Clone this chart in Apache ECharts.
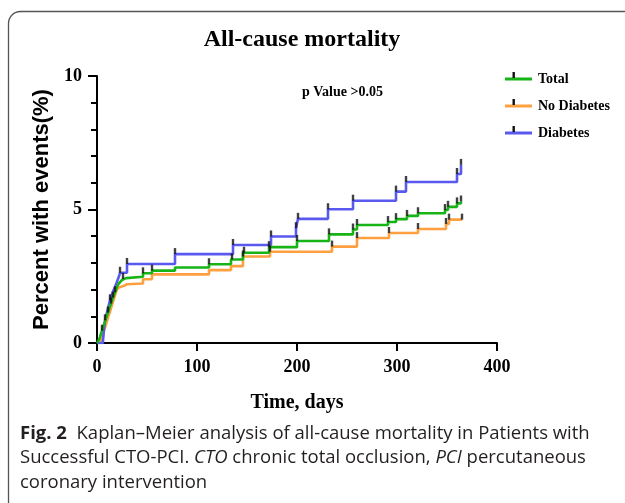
<!DOCTYPE html>
<html>
<head>
<meta charset="utf-8">
<script src="https://cdn.jsdelivr.net/npm/echarts@6/dist/echarts.min.js"></script>
<style>
html,body{margin:0;padding:0;background:#fff;}
#chart{width:625px;height:503px;}
</style>
</head>
<body>
<div id="chart"></div>
<script>
// ---- data (days, percent with events) ----
const seriesNames = ['Total', 'No Diabetes', 'Diabetes'];
const seriesColors = ['#17b317', '#ffa040', '#5959f0'];
const xTicks = [0, 100, 200, 300, 400];
const yTicks = [0, 5, 10];

const totalSteps = [[0,0],[2,0.12],[3,0.23],[4,0.35],[5,0.46],[6,0.57],[7,0.69],[8,0.8],[9,0.92],[10,1.03],[11,1.14],[12,1.26],[13,1.37],[14,1.48],[15,1.6],[16,1.7],[17,1.8],[18,1.9],[19,2.0],[20,2.1],[21,2.18],[23,2.28],[25,2.36],[27,2.43],[29,2.48],[46,2.61],[55,2.71],[78,2.83],[112,2.95],[134,3.13],[146,3.38],[172,3.59],[200,3.82],[232,4.07],[256,4.25],[260,4.42],[291,4.53],[299,4.64],[310,4.76],[321,4.86],[348,4.98],[351,5.1],[360,5.23],[364,5.3]];
const noDiabetesSteps = [[0,0],[4,0.1],[5,0.22],[6,0.34],[7,0.46],[8,0.58],[9,0.7],[10,0.82],[11,0.94],[12,1.06],[13,1.18],[14,1.3],[15,1.42],[16,1.54],[17,1.66],[18,1.78],[19,1.9],[20,2.0],[22,2.08],[24,2.14],[27,2.2],[30,2.23],[46,2.39],[55,2.57],[112,2.73],[134,2.88],[146,3.24],[173,3.42],[235,3.61],[260,3.93],[292,4.12],[321,4.27],[349,4.46],[352,4.62],[365,4.62]];
const diabetesSteps = [[0,0],[6,0.1],[7,0.5],[8,0.85],[9,1.0],[10,1.15],[11,1.3],[12,1.45],[13,1.6],[14,1.72],[15,1.83],[16,1.93],[18,2.1],[20,2.3],[22,2.5],[23,2.63],[30,2.96],[78,3.33],[136,3.67],[174,3.99],[199,4.3],[201,4.65],[231,5.01],[256,5.33],[299,5.67],[309,6.03],[360,6.33],[364,6.67]];

// censored observations (tick marks)
const totalCensor = [[5,0.46],[11,1.14],[14,1.48],[16,1.7],[18,1.9],[26,2.4],[46,2.61],[55,2.71],[112,2.95],[135,3.13],[147,3.38],[172,3.59],[200,3.82],[232,4.07],[256,4.25],[260,4.42],[291,4.53],[299,4.64],[310,4.76],[321,4.86],[348,4.98],[351,5.1],[360,5.23],[364,5.3]];
const noDiabetesCensor = [[146,3.24],[173,3.42],[235,3.61],[260,3.93],[292,4.12],[321,4.27],[349,4.46],[352,4.62],[365,4.62]];
const diabetesCensor = [[8,0.85],[13,1.6],[23,2.63],[30,2.96],[78,3.33],[136,3.67],[174,3.99],[199,4.3],[201,4.65],[231,5.01],[256,5.33],[299,5.67],[309,6.03],[360,6.33],[364,6.67]];

const serif = '"Liberation Serif","Times New Roman",serif';
const sans = '"Liberation Sans",Arial,sans-serif';
const capFont = '"Open Sans",sans-serif';

const chart = echarts.init(document.getElementById('chart'), null, {renderer: 'canvas'});

const stepSeries = [totalSteps, noDiabetesSteps, diabetesSteps];
const censorSeries = [totalCensor, noDiabetesCensor, diabetesCensor];
const drawOrder = [1, 2, 0];

const series = [];
drawOrder.forEach(i => {
  series.push({
    name: seriesNames[i], type: 'line', step: 'end', data: stepSeries[i],
    symbol: 'none', color: seriesColors[i],
    lineStyle: {width: 2.6, color: seriesColors[i]}, z: 2 + drawOrder.indexOf(i), animation: false
  });
});
censorSeries.forEach(c => {
  series.push({
    type: 'scatter', data: c, symbol: 'rect', symbolSize: [2.4, 6], symbolOffset: [0, -3],
    itemStyle: {color: '#111'}, z: 10, animation: false, silent: true
  });
});

chart.setOption({
  animation: false,
  title: {
    text: 'All-cause mortality', left: 297, top: 23, textAlign: 'center',
    textStyle: {fontFamily: serif, fontWeight: 'bold', fontSize: 24, color: '#000'}
  },
  legend: {
    data: seriesNames, orient: 'vertical', left: 500, top: 67, itemGap: 13,
    itemWidth: 27, itemHeight: 3, icon: 'rect',
    textStyle: {fontFamily: serif, fontWeight: 'bold', fontSize: 14, color: '#000', padding: [0,0,0,1]}
  },
  grid: {left: 97, right: 128, top: 76, bottom: 160, containLabel: false},
  xAxis: {
    type: 'value', min: 0, max: 400, interval: 100,
    name: 'Time, days', nameLocation: 'middle', nameGap: 50,
    nameTextStyle: {fontFamily: serif, fontWeight: 'bold', fontSize: 20, color: '#000'},
    axisLine: {show: true, onZero: false, lineStyle: {color: '#000', width: 2}},
    axisTick: {show: true, length: 8, lineStyle: {color: '#000', width: 2}},
    axisLabel: {fontFamily: serif, fontWeight: 'bold', fontSize: 18, color: '#000', margin: 15,
      customValues: xTicks},
    splitLine: {show: false}
  },
  yAxis: {
    type: 'value', min: 0, max: 10, interval: 5,
    name: 'Percent with events(%)', nameLocation: 'middle', nameGap: 44,
    nameTextStyle: {fontFamily: sans, fontWeight: 'bold', fontSize: 22, color: '#000'},
    axisLine: {show: true, lineStyle: {color: '#000', width: 2}},
    axisTick: {show: true, length: 9, lineStyle: {color: '#000', width: 2}},
    minorTick: {show: true, splitNumber: 5, length: 6, lineStyle: {color: '#000', width: 2}},
    axisLabel: {fontFamily: serif, fontWeight: 'bold', fontSize: 18, color: '#000', margin: 15},
    splitLine: {show: false}
  },
  graphic: [
    {type: 'rect', shape: {x: 8.5, y: 11.5, width: 700, height: 600, r: 12}, style: {fill: 'none', stroke: '#555', lineWidth: 1.3}, z: -1},
    {type: 'text', left: 302, top: 85, style: {text: 'p Value >0.05', font: 'bold 14px ' + serif, fill: '#000'}},
    {type: 'rect', shape: {x: 512.5, y: 72, width: 2.4, height: 6}, style: {fill: '#111'}, z: 100},
    {type: 'rect', shape: {x: 512.5, y: 99, width: 2.4, height: 6}, style: {fill: '#111'}, z: 100},
    {type: 'rect', shape: {x: 512.5, y: 126, width: 2.4, height: 6}, style: {fill: '#111'}, z: 100},
    {type: 'text', left: 20, top: 421, style: {
      text: '{b|Fig. 2}  Kaplan–Meier analysis of all-cause mortality in Patients with\nSuccessful CTO-PCI. {i|CTO} chronic total occlusion, {i|PCI} percutaneous\ncoronary intervention',
      font: '18.5px ' + capFont, fill: '#231f20', lineHeight: 24.5,
      rich: {
        b: {fontFamily: capFont, fontWeight: 'bold', fontSize: 18.5, fill: '#231f20', lineHeight: 24.5},
        i: {fontFamily: capFont, fontStyle: 'italic', fontSize: 18.5, fill: '#231f20', lineHeight: 24.5}
      }
    }}
  ],
  series: series
});
</script>
</body>
</html>
